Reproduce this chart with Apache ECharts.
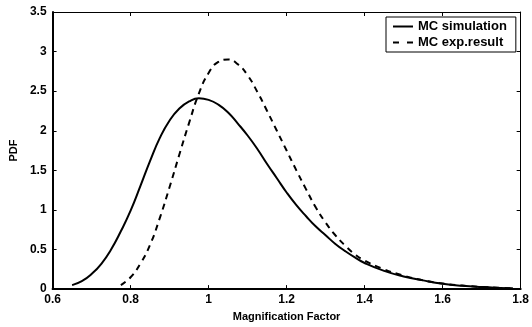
<!DOCTYPE html>
<html>
<head>
<meta charset="utf-8">
<script src="https://cdn.jsdelivr.net/npm/echarts@6/dist/echarts.min.js"></script>
<style>
  html, body { margin: 0; padding: 0; background: #fff; }
  #chart { width: 532px; height: 327px; }
</style>
</head>
<body>
<div id="chart"></div>
<script>
// MC simulation (solid)
var simX = [0.65, 0.675, 0.70, 0.725, 0.75, 0.775, 0.80, 0.825, 0.85, 0.875, 0.90, 0.925, 0.95, 0.975,
  1.00, 1.025, 1.05, 1.075, 1.10, 1.125, 1.15, 1.175, 1.20, 1.225, 1.25, 1.275, 1.30, 1.325, 1.35,
  1.375, 1.40, 1.45, 1.50, 1.55, 1.60, 1.65, 1.70, 1.75, 1.78];
var simY = [0.05, 0.10, 0.19, 0.32, 0.50, 0.73, 0.99, 1.30, 1.62, 1.91, 2.13, 2.28, 2.37, 2.41,
  2.39, 2.33, 2.23, 2.09, 1.94, 1.77, 1.58, 1.40, 1.22, 1.06, 0.92, 0.79, 0.68, 0.57, 0.48,
  0.40, 0.33, 0.23, 0.16, 0.11, 0.068, 0.042, 0.026, 0.015, 0.01];

// MC exp.result (dashed)
var expX = [0.775, 0.80, 0.825, 0.85, 0.875, 0.90, 0.925, 0.95, 0.975, 1.00, 1.025, 1.05, 1.075,
  1.10, 1.125, 1.15, 1.175, 1.20, 1.225, 1.25, 1.275, 1.30, 1.325, 1.35, 1.375, 1.40, 1.45, 1.50,
  1.55, 1.60, 1.65, 1.70, 1.75, 1.78];
var expY = [0.05, 0.15, 0.32, 0.56, 0.90, 1.29, 1.70, 2.10, 2.47, 2.73, 2.87, 2.90, 2.84,
  2.70, 2.49, 2.25, 2.00, 1.75, 1.50, 1.26, 1.03, 0.84, 0.68, 0.55, 0.44, 0.36, 0.25, 0.17,
  0.11, 0.07, 0.045, 0.027, 0.016, 0.011];

var xTicks = [0.6, 0.8, 1, 1.2, 1.4, 1.6, 1.8];
var yTicks = [0, 0.5, 1, 1.5, 2, 2.5, 3, 3.5];

function pairs(xs, ys) {
  return xs.map(function (x, i) { return [x, ys[i]]; });
}

var font = 'Liberation Sans, Arial, Helvetica, sans-serif';
var chart = echarts.init(document.getElementById('chart'));

function xAxisDef(pos, main) {
  return {
    type: 'value', position: pos,
    min: xTicks[0], max: xTicks[xTicks.length - 1], interval: 0.2,
    name: main ? 'Magnification Factor' : '',
    nameLocation: 'middle', nameGap: 21,
    nameTextStyle: { color: '#000', fontWeight: 'bold', fontSize: 11, fontFamily: font },
    axisLine: { show: true, onZero: false, lineStyle: { color: '#000', width: main ? 2 : 1 } },
    axisTick: { show: true, inside: true, length: 4, lineStyle: { color: '#000' } },
    axisLabel: { show: main, color: '#000', fontWeight: 'bold', fontSize: 12, fontFamily: font, margin: 5 },
    splitLine: { show: false }
  };
}

function yAxisDef(pos, main) {
  return {
    type: 'value', position: pos,
    min: yTicks[0], max: yTicks[yTicks.length - 1], interval: 0.5,
    name: main ? 'PDF' : '',
    nameLocation: 'middle', nameGap: 30,
    nameTextStyle: { color: '#000', fontWeight: 'bold', fontSize: 11, fontFamily: font },
    axisLine: { show: true, onZero: false, lineStyle: { color: '#000', width: main ? 2 : 1 } },
    axisTick: { show: true, inside: true, length: 4, lineStyle: { color: '#000' } },
    axisLabel: { show: main, color: '#000', fontWeight: 'bold', fontSize: 12, fontFamily: font, margin: 6 },
    splitLine: { show: false }
  };
}

chart.setOption({
  animation: false,
  backgroundColor: '#fff',
  grid: { left: 46, right: 10, top: 12, bottom: 37 },
  legend: {
    orient: 'vertical',
    left: 386, top: 17,
    padding: [3, 9, 3, 7],
    itemGap: 3,
    itemWidth: 20, itemHeight: 2,
    backgroundColor: '#fff',
    borderColor: '#000', borderWidth: 1,
    textStyle: { color: '#000', fontWeight: 'bold', fontSize: 13, fontFamily: font },
    data: [
      { name: 'MC simulation', icon: 'rect' },
      { name: 'MC exp.result', icon: 'path://M0,0h6v2h-6z M14,0h6v2h-6z' }
    ]
  },
  xAxis: [xAxisDef('bottom', true), xAxisDef('top', false)],
  yAxis: [yAxisDef('left', true), yAxisDef('right', false)],
  series: [
    {
      name: 'MC simulation', type: 'line', smooth: 0.5, symbol: 'none',
      lineStyle: { color: '#000', width: 2, type: 'solid' },
      itemStyle: { color: '#000' },
      data: pairs(simX, simY)
    },
    {
      name: 'MC exp.result', type: 'line', smooth: 0.5, symbol: 'none',
      lineStyle: { color: '#000', width: 2, type: [6, 5] },
      itemStyle: { color: '#000' },
      data: pairs(expX, expY)
    }
  ]
});
</script>
</body>
</html>
